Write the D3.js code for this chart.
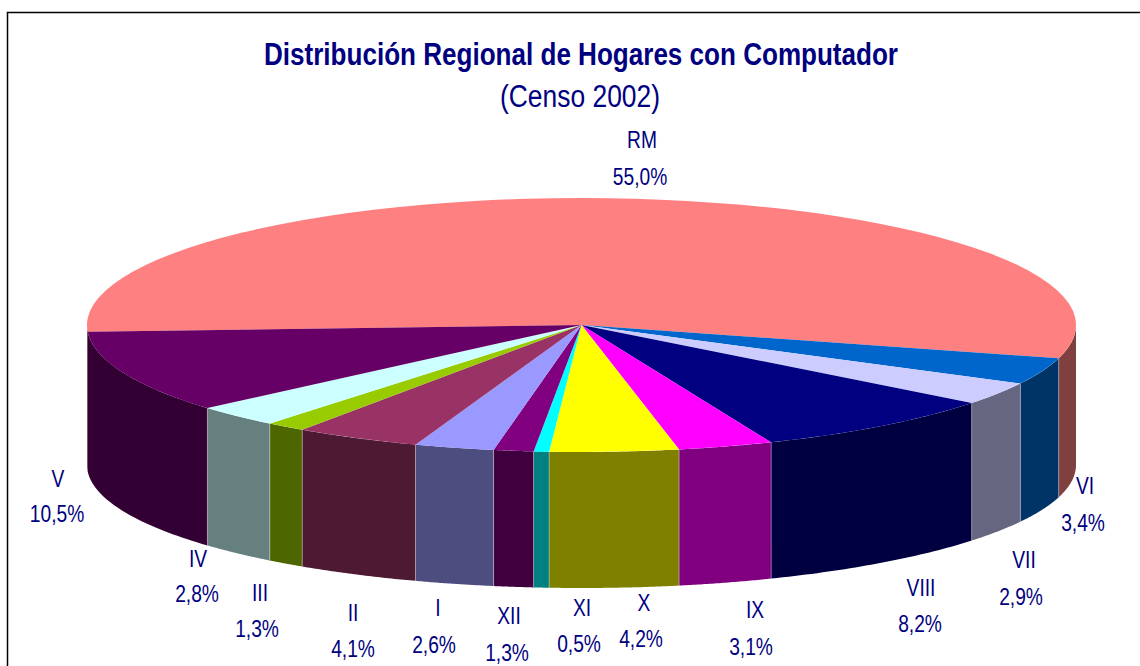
<!DOCTYPE html>
<html>
<head>
<meta charset="utf-8">
<script src="https://cdn.jsdelivr.net/npm/d3@7"></script>
<style>
  html, body { margin: 0; padding: 0; background: #fff; }
  svg { display: block; }
  text { font-family: "Liberation Sans", Arial, sans-serif; fill: #000080; }
</style>
</head>
<body>
<div id="grafico"></div>
<script>
// datos
const regiones = ["RM", "VI", "VII", "VIII", "IX", "X", "XI", "XII", "I", "II", "III", "IV", "V"];
const porcentajes = [55.0, 3.4, 2.9, 8.2, 3.1, 4.2, 0.5, 1.3, 2.6, 4.1, 1.3, 2.8, 10.5];
const coloresTapa = ["#FF8080", "#0066CC", "#CCCCFF", "#000080", "#FF00FF", "#FFFF00", "#00FFFF", "#800080", "#9999FF", "#993366", "#99CC00", "#CCFFFF", "#660066"];
const coloresLado = ["#804040", "#003366", "#666680", "#000040", "#800080", "#808000", "#008080", "#400040", "#4D4D80", "#4D1933", "#4D6600", "#668080", "#330033"];

// etiquetas colocadas a mano, igual que en el original: [x nombre, y nombre, x valor, y valor]
const posEtiquetas = {
    RM: [642, 139, 640, 176],
    VI: [1085, 485, 1083, 522],
    VII: [1024, 559, 1021, 596],
    VIII: [921, 587, 920, 623],
    IX: [755, 609, 751, 646],
    X: [644, 602, 641, 638],
    XI: [582, 607, 579, 643],
    XII: [509, 615, 507, 652],
    I: [438, 607, 434, 644],
    II: [353, 612, 353, 648],
    III: [260, 592, 257, 628],
    IV: [198, 558, 197, 593],
    V: [58, 478, 57, 513]
};

const ancho = 1140, alto = 666;
const centroX = 581.5, centroY = 325;
const radioX = 494.5, radioY = 127;
const centroBaseY = 465, radioBaseY = 123;
const rad = Math.PI / 180;

const $svg = d3.select("#grafico")
    .append("svg")
    .attr("width", ancho)
    .attr("height", alto);

// el marco no tiene lado derecho visible
$svg.append("path")
    .attr("d", `M7.5,${alto + 5}V12.5H${ancho + 5}`)
    .attr("fill", "none")
    .attr("stroke", "#000")
    .attr("stroke-width", 1.5);

$svg.append("text")
    .attr("x", 581)
    .attr("y", 65)
    .attr("text-anchor", "middle")
    .attr("font-size", 32)
    .attr("font-weight", "bold")
    .attr("textLength", 634)
    .attr("lengthAdjust", "spacingAndGlyphs")
    .text("Distribución Regional de Hogares con Computador");

$svg.append("text")
    .attr("x", 580)
    .attr("y", 107)
    .attr("text-anchor", "middle")
    .attr("font-size", 31)
    .attr("textLength", 160)
    .attr("lengthAdjust", "spacingAndGlyphs")
    .text("(Censo 2002)");

const pie = d3.pie()
    .sort(null)
    .startAngle(-93 * rad)
    .endAngle(267 * rad);

const porciones = pie(porcentajes);

const escalaX = d3.scaleLinear().domain([-1, 1]).range([centroX - radioX, centroX + radioX]);
const puntoTapa = a => [escalaX(Math.sin(a)), centroY - radioY * Math.cos(a)];
const puntoBase = a => [escalaX(Math.sin(a)), centroBaseY - radioBaseY * Math.cos(a)];
const linea = d3.line();

// solo se ve el lado que da al frente, entre 90 y 270 grados
const tramosVisibles = p => {
    const ventanas = [[-270 * rad, -90 * rad], [90 * rad, 270 * rad]];
    return ventanas
        .map(v => [Math.max(p.startAngle, v[0]), Math.min(p.endAngle, v[1])])
        .filter(t => t[1] > t[0]);
};

const pathLado = (a0, a1) => {
    const pasos = d3.range(0, 41).map(i => a0 + (a1 - a0) * i / 40);
    const arriba = pasos.map(puntoTapa);
    const abajo = pasos.map(puntoBase).reverse();
    return linea(arriba.concat(abajo)) + "Z";
};

const lados = $svg.append("g");
porciones.forEach((p, i) => {
    tramosVisibles(p).forEach(t => {
        lados.append("path")
            .attr("d", pathLado(t[0], t[1]))
            .attr("fill", coloresLado[i]);
    });
});

// aristas claras entre los lados
porciones.forEach((p, i) => {
    if (i === 0) return;
    lados.append("path")
        .attr("d", linea([puntoTapa(p.startAngle), puntoBase(p.startAngle)]))
        .attr("stroke", "#fff")
        .attr("stroke-opacity", 0.35)
        .attr("stroke-width", 1);
});

// la tapa va con d3.arc en un grupo achatado
const arco = d3.arc().innerRadius(0).outerRadius(radioX);
$svg.append("g")
    .attr("transform", `translate(${centroX},${centroY}) scale(1,${radioY / radioX})`)
    .selectAll("path")
    .data(porciones)
    .join("path")
    .attr("d", arco)
    .attr("fill", (d, i) => coloresTapa[i]);

regiones.forEach((r, i) => {
    const pos = posEtiquetas[r];
    const valor = porcentajes[i].toFixed(1).replace(".", ",") + "%";
    [[r, pos[0], pos[1]], [valor, pos[2], pos[3]]].forEach(e => {
        $svg.append("text")
            .attr("transform", `translate(${e[1]},${e[2]}) scale(0.8,1)`)
            .attr("dy", "0.36em")
            .attr("text-anchor", "middle")
            .attr("font-size", 24)
            .text(e[0]);
    });
});
</script>
</body>
</html>
